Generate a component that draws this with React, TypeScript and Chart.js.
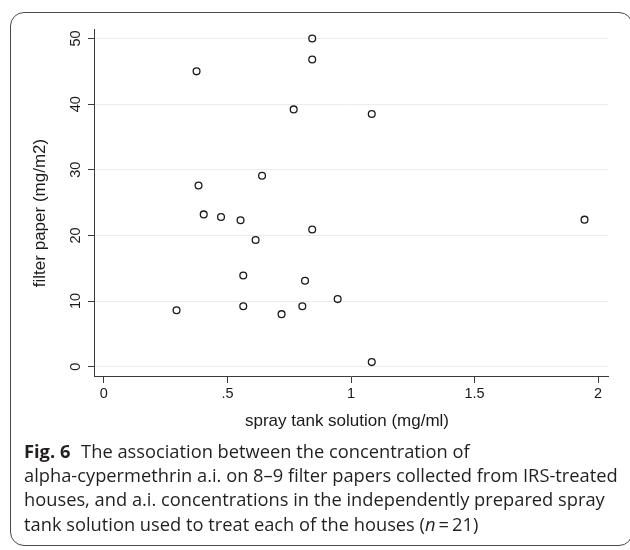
import React, { useEffect, useRef } from "react";
import { Chart, registerables } from "chart.js";

Chart.register(...registerables);

const xValues = [0.375, 0.843, 0.843, 0.768, 0.64, 0.383, 0.404, 0.474, 0.553, 0.614, 0.843, 0.564, 0.814, 0.294, 0.564, 0.719, 0.803, 0.946, 1.084, 1.084, 1.945];
const yValues = [45.0, 50.0, 46.8, 39.2, 29.1, 27.6, 23.2, 22.8, 22.3, 19.3, 20.9, 13.9, 13.1, 8.6, 9.2, 8.0, 9.2, 10.3, 38.5, 0.7, 22.4];
const xTicks = [0, 0.5, 1, 1.5, 2];
const xTickLabels = ["0", ".5", "1", "1.5", "2"];
const yTicks = [0, 10, 20, 30, 40, 50];
const yTickLabels = ["0", "10", "20", "30", "40", "50"];
const xTitle = "spray tank solution (mg/ml)";
const yTitle = "filter paper (mg/m2)";

const FONT = "'Liberation Sans', Arial, Helvetica, sans-serif";

const axisTextPlugin = {
  id: "axisText",
  afterDraw(chart: any) {
    const ys = chart.scales.y;
    const ctx = chart.ctx;
    ctx.save();
    ctx.fillStyle = "#1a1a1a";
    ctx.textAlign = "center";
    ctx.textBaseline = "middle";
    ctx.font = "14.5px " + FONT;
    yTicks.forEach((v, i) => {
      const py = ys.getPixelForValue(v);
      ctx.save();
      ctx.translate(ys.right - 18, py);
      ctx.rotate(-Math.PI / 2);
      ctx.fillText(yTickLabels[i], 0, 0);
      ctx.restore();
    });
    // y-axis title
    ctx.font = "17px " + FONT;
    ctx.save();
    ctx.translate(40, 213);
    ctx.rotate(-Math.PI / 2);
    ctx.fillText(yTitle, 0, 0);
    ctx.restore();
    // x-axis title
    ctx.fillText(xTitle, 347, 421);
    ctx.restore();
  },
};

function ScatterChart() {
  const ref = useRef<HTMLCanvasElement | null>(null);
  useEffect(() => {
    if (!ref.current) return;
    const chart = new Chart(ref.current, {
      type: "scatter",
      data: {
        datasets: [
          {
            data: xValues.map((x, i) => ({ x, y: yValues[i] })),
            pointStyle: "circle",
            pointRadius: 3.4,
            pointBorderWidth: 1.3,
            pointBorderColor: "#1a1a1a",
            pointBackgroundColor: "rgba(0,0,0,0)",
            pointHoverRadius: 3.4,
          },
        ],
      },
      options: {
        responsive: false,
        animation: false,
        events: [],
        layout: { padding: { top: 29, right: 22, left: 0, bottom: 0 } },
        plugins: { legend: { display: false }, tooltip: { enabled: false } },
        scales: {
          x: {
            type: "linear",
            min: -0.04,
            max: 2.04,
            afterBuildTicks: (s: any) => {
              s.ticks = xTicks.map((v) => ({ value: v }));
            },
            afterFit: (s: any) => {
              s.height = 64;
            },
            ticks: {
              callback: (v: any) => xTickLabels[xTicks.indexOf(Number(v))],
              font: { family: FONT, size: 14.5 },
              color: "#1a1a1a",
              padding: 2,
              maxRotation: 0,
              minRotation: 0,
            },
            grid: {
              drawOnChartArea: false,
              drawTicks: true,
              tickLength: 7,
              tickColor: "#3a3a3a",
              tickWidth: 1,
            },
            border: { display: true, color: "#3a3a3a", width: 1 },
            title: { display: false },
          },
          y: {
            type: "linear",
            min: -1.42,
            max: 51.45,
            afterBuildTicks: (s: any) => {
              s.ticks = yTicks.map((v) => ({ value: v }));
            },
            afterFit: (s: any) => {
              s.width = 94;
            },
            ticks: { display: false },
            grid: {
              drawOnChartArea: true,
              color: "#ebebeb",
              lineWidth: 1,
              drawTicks: true,
              tickLength: 6,
              tickColor: "#3a3a3a",
              tickWidth: 1,
            },
            border: { display: true, color: "#3a3a3a", width: 1 },
            title: { display: false },
          },
        },
      },
      plugins: [axisTextPlugin],
    });
    return () => chart.destroy();
  }, []);
  return (
    <canvas
      ref={ref}
      width={630}
      height={440}
      style={{ position: "absolute", left: 0, top: 0, width: 630, height: 440 }}
    />
  );
}

export default function App() {
  const capStyle: React.CSSProperties = {
    position: "absolute",
    left: 24,
    top: 438.7,
    fontFamily: "'Open Sans', sans-serif",
    fontSize: 18.3,
    lineHeight: "24.3px",
    color: "#231f20",
    whiteSpace: "nowrap",
  };
  return (
    <div style={{ position: "absolute", left: 0, top: 0, width: 630, height: 550, overflow: "hidden", background: "#fff" }}>
      <div
        style={{
          position: "absolute",
          left: 10,
          top: 12,
          width: 623,
          height: 534,
          border: "1.5px solid #4a4a4a",
          borderRadius: 14,
          boxSizing: "border-box",
        }}
      />
      <ScatterChart />
      <div style={capStyle}>
        <div>
          <b style={{ fontWeight: 700, marginRight: 6 }}>Fig. 6</b> The association between the concentration of
        </div>
        <div>alpha-cypermethrin a.i. on 8–9 filter papers collected from IRS-treated</div>
        <div>houses, and a.i. concentrations in the independently prepared spray</div>
        <div>
          tank solution used to treat each of the houses (<i>n</i>&thinsp;=&thinsp;21)
        </div>
      </div>
    </div>
  );
}
